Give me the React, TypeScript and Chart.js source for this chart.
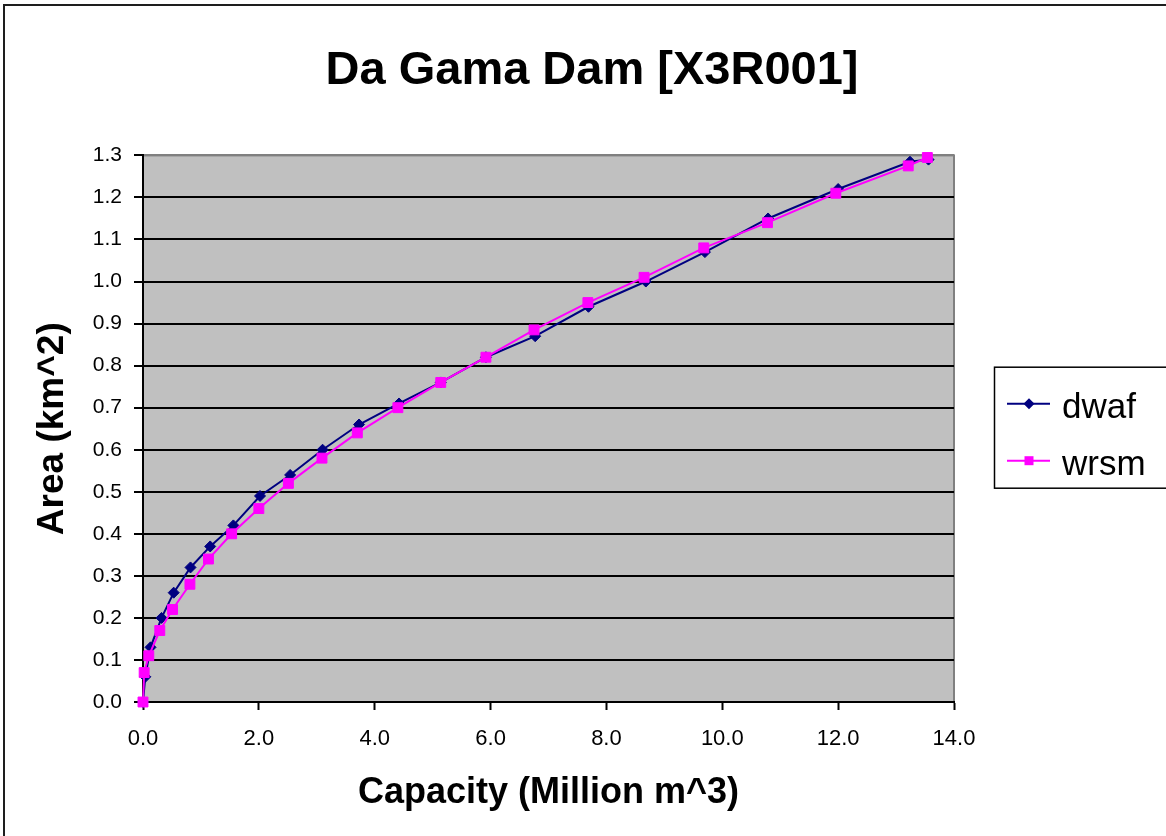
import React, { useEffect, useRef } from 'react';
import { Chart, registerables } from 'chart.js';

Chart.register(...registerables);

// ---------- data ----------
const CHART_TITLE = 'Da Gama Dam [X3R001]';
const X_TITLE = 'Capacity (Million m^3)';
const Y_TITLE = 'Area (km^2)';
const SERIES_NAMES = ['dwaf', 'wrsm'];

const dwafX = [0, 0.04, 0.13, 0.32, 0.53, 0.82, 1.16, 1.56, 2.02, 2.54, 3.10, 3.73, 4.42, 5.14, 5.92, 6.77, 7.69, 8.68, 9.70, 10.79, 12.00, 13.24, 13.56];
const dwafY = [0, 0.06, 0.13, 0.20, 0.26, 0.32, 0.37, 0.42, 0.49, 0.54, 0.60, 0.66, 0.71, 0.76, 0.82, 0.87, 0.94, 1.00, 1.07, 1.15, 1.22, 1.285, 1.29];

const wrsmX = [0, 0.02, 0.10, 0.29, 0.51, 0.81, 1.13, 1.53, 2.00, 2.51, 3.09, 3.70, 4.40, 5.14, 5.92, 6.75, 7.68, 8.65, 9.68, 10.78, 11.96, 13.21, 13.54];
const wrsmY = [0, 0.07, 0.11, 0.17, 0.22, 0.28, 0.34, 0.40, 0.46, 0.52, 0.58, 0.64, 0.70, 0.76, 0.82, 0.885, 0.95, 1.01, 1.08, 1.14, 1.21, 1.275, 1.295];

const X_MIN = 0;
const X_MAX = 14;
const X_STEP = 2;
const Y_MIN = 0;
const Y_MAX = 1.3;
const Y_STEP = 0.1;

// ---------- styles ----------
const FONT = '"Liberation Sans", Arial, Helvetica, sans-serif';
const DWAF_COLOR = '#000080';
const WRSM_COLOR = '#FF00FF';
const PLOT_BG = '#C0C0C0';

const toPoints = (xs: number[], ys: number[]) => xs.map((x, i) => ({ x, y: ys[i] }));

const framePlugin = {
  id: 'frame',
  beforeDraw(chart: any) {
    const { ctx, chartArea: a, width, height } = chart;
    ctx.save();
    ctx.fillStyle = '#ffffff';
    ctx.fillRect(0, 0, width, height);
    // outer chart border (left and top edges visible in view)
    ctx.strokeStyle = '#1e1e1e';
    ctx.lineWidth = 2;
    ctx.beginPath();
    ctx.moveTo(4, height + 10);
    ctx.lineTo(4, 5);
    ctx.lineTo(width + 10, 5);
    ctx.stroke();
    // plot area
    ctx.fillStyle = PLOT_BG;
    ctx.fillRect(a.left, a.top, a.right - a.left, a.bottom - a.top);
    ctx.strokeStyle = '#808080';
    ctx.lineWidth = 2;
    ctx.strokeRect(a.left, a.top, a.right - a.left, a.bottom - a.top);
    ctx.restore();
  },
};

const boxLegendPlugin = {
  id: 'boxLegend',
  afterDraw(chart: any) {
    const { ctx, chartArea: a } = chart;
    const left = a.right + 40;
    const midY = (a.top + a.bottom) / 2;
    const top = midY - 62;
    ctx.save();
    ctx.strokeStyle = '#000000';
    ctx.lineWidth = 1.5;
    ctx.strokeRect(left + 0.5, top + 0.5, 300, 121);
    chart.data.datasets.forEach((ds: any, i: number) => {
      const y = top + 37 + i * 57;
      ctx.strokeStyle = ds.borderColor;
      ctx.lineWidth = 2;
      ctx.beginPath();
      ctx.moveTo(left + 13, y);
      ctx.lineTo(left + 56, y);
      ctx.stroke();
      ctx.fillStyle = ds.backgroundColor;
      const cx = left + 35;
      ctx.beginPath();
      if (ds.pointStyle === 'rectRot') {
        const r = 5.5;
        ctx.moveTo(cx - r, y);
        ctx.lineTo(cx, y - r);
        ctx.lineTo(cx + r, y);
        ctx.lineTo(cx, y + r);
        ctx.closePath();
      } else {
        const h = 4.5;
        ctx.rect(cx - h, y - h, 2 * h, 2 * h);
      }
      ctx.fill();
      ctx.fillStyle = '#000000';
      ctx.font = `35px ${FONT}`;
      ctx.textBaseline = 'alphabetic';
      ctx.textAlign = 'left';
      ctx.fillText(ds.label, left + 68, y + 14);
    });
    ctx.restore();
  },
};

export default function App() {
  const canvasRef = useRef<HTMLCanvasElement | null>(null);

  useEffect(() => {
    const canvas = canvasRef.current;
    if (!canvas) return;
    const chart = new Chart(canvas, {
      type: 'line',
      data: {
        datasets: [
          {
            label: SERIES_NAMES[0],
            data: toPoints(dwafX, dwafY),
            borderColor: DWAF_COLOR,
            backgroundColor: DWAF_COLOR,
            borderWidth: 2,
            pointStyle: 'rectRot',
            pointRadius: 5.5,
            pointBorderWidth: 1,
            pointBackgroundColor: DWAF_COLOR,
            pointBorderColor: DWAF_COLOR,
            tension: 0,
            clip: false as any,
            order: 1,
          },
          {
            label: SERIES_NAMES[1],
            data: toPoints(wrsmX, wrsmY),
            borderColor: WRSM_COLOR,
            backgroundColor: WRSM_COLOR,
            borderWidth: 2,
            pointStyle: 'rect',
            pointRadius: 7,
            pointBorderWidth: 1,
            pointBackgroundColor: WRSM_COLOR,
            pointBorderColor: WRSM_COLOR,
            tension: 0,
            clip: false as any,
            order: 0,
          },
        ],
      },
      options: {
        responsive: false,
        animation: false,
        devicePixelRatio: 1,
        layout: { padding: { left: 18, right: 0, top: 0, bottom: 0 } },
        plugins: {
          legend: { display: false },
          tooltip: { enabled: false },
          title: {
            display: true,
            text: CHART_TITLE,
            color: '#000000',
            font: { family: FONT, size: 47, weight: 'bold' },
            padding: { top: 43, bottom: 56 },
          },
        },
        scales: {
          x: {
            type: 'linear',
            position: 'bottom',
            min: X_MIN,
            max: X_MAX,
            afterFit: (s: any) => { s.height = 134; },
            ticks: {
              stepSize: X_STEP,
              color: '#000000',
              font: { family: FONT, size: 22 },
              padding: 16,
              callback: (v: any) => Number(v).toFixed(1),
              maxRotation: 0,
            },
            grid: { drawOnChartArea: false, drawTicks: true, tickLength: 8, tickColor: '#000000', tickWidth: 2 },
            border: { display: true, color: '#000000', width: 2 },
            title: {
              display: true,
              text: X_TITLE,
              color: '#000000',
              font: { family: FONT, size: 36, weight: 'bold' },
              padding: { top: 0, bottom: 21 },
            },
          },
          y: {
            type: 'linear',
            position: 'left',
            min: Y_MIN,
            max: Y_MAX,
            afterFit: (s: any) => { s.width = 125; },
            ticks: {
              stepSize: Y_STEP,
              color: '#000000',
              font: { family: FONT, size: 21 },
              padding: 12,
              callback: (v: any) => Number(v).toFixed(1),
            },
            grid: {
              color: (c: any) => (c.tick && c.tick.value > Y_MAX - Y_STEP / 2 ? '#808080' : '#000000'),
              lineWidth: 2,
              drawTicks: true,
              tickLength: 9,
              tickColor: '#000000',
              tickWidth: 2,
            },
            border: { display: true, color: '#000000', width: 2 },
            title: {
              display: true,
              text: Y_TITLE,
              color: '#000000',
              font: { family: FONT, size: 37, weight: 'bold' },
              padding: { top: 13, bottom: 0 },
            },
          },
          yRight: {
            type: 'linear',
            position: 'right',
            display: true,
            afterFit: (s: any) => { s.width = 212; },
            ticks: { display: false },
            grid: { display: false, drawTicks: false },
            border: { display: false },
            title: { display: false },
          },
        },
      },
      plugins: [framePlugin, boxLegendPlugin],
    } as any);
    return () => chart.destroy();
  }, []);

  return (
    <div style={{ position: 'absolute', left: 0, top: 0, width: 1166, height: 836, overflow: 'hidden', background: '#fff' }}>
      <canvas ref={canvasRef} width={1166} height={836} style={{ display: 'block', width: 1166, height: 836 }} />
    </div>
  );
}
